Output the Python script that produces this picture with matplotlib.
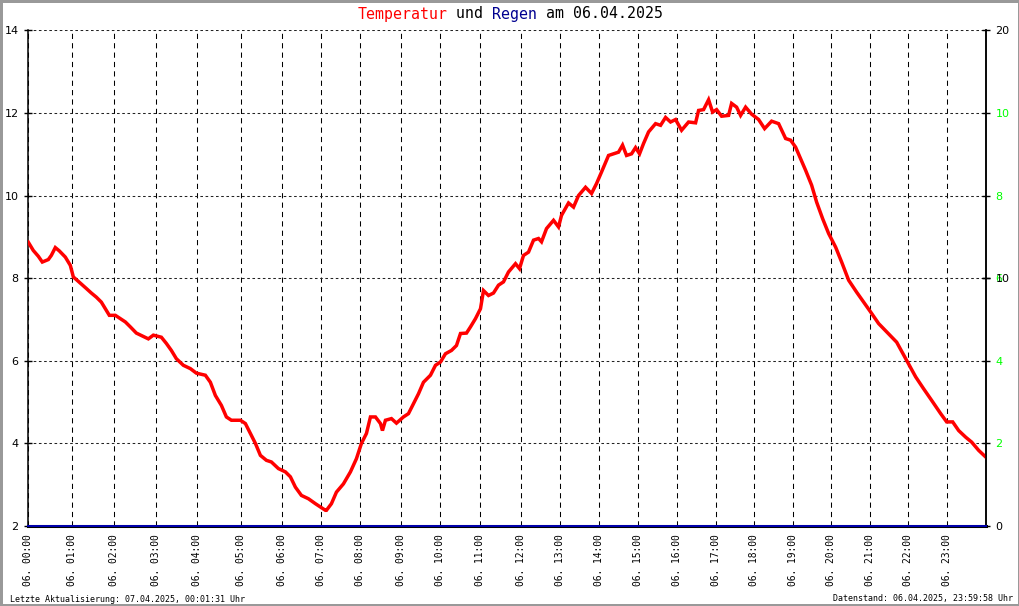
import numpy as np, matplotlib
matplotlib.use("Agg"); import matplotlib.pyplot as plt

plt.rcParams.update({"font.family": "DejaVu Sans", "axes.linewidth": 1.1})

# sample index of the temperature log (irregular sampling), one tick per hour
hour_idx = [0, 44, 86, 128, 169, 213, 254, 293, 332, 373, 412, 452, 492, 531, 570, 609,
            648, 687, 725, 764, 802, 841, 879, 918]
hour_lab = ["06. %02d:00" % h for h in range(24)]
n_samples = 957

# temperature (°C)
t_idx = [0, 5, 10, 14, 20, 23, 27, 31, 37, 42, 45, 52, 58, 63, 68, 73, 81, 87, 92, 97, 102, 108,
         115, 120, 125, 133, 138, 143, 148, 155, 162, 168, 177, 182, 187, 193, 198, 203, 212, 217,
         222, 227, 232, 238, 243, 250, 257, 262, 267, 273, 280, 287, 292, 297, 298, 303, 308, 315,
         322, 328, 333, 338, 342, 347, 352, 354, 357, 363, 368, 375, 380, 385, 390, 395, 402, 407,
         412, 417, 423, 428, 432, 438, 442, 447, 452, 455, 460, 465, 470, 475, 480, 487, 491, 495,
         500, 505, 510, 513, 518, 525, 530, 533, 540, 545, 550, 557, 563, 568, 573, 580, 585, 590,
         594, 598, 603, 607, 611, 615, 620, 627, 632, 637, 642, 647, 653, 660, 667, 670, 675, 680,
         684, 688, 693, 700, 703, 708, 712, 717, 723, 730, 736, 743, 750, 757, 762, 767, 772, 777,
         783, 788, 794, 800, 807, 813, 820, 828, 835, 842, 850, 858, 868, 878, 887, 895, 903, 912,
         918, 924, 930, 937, 943, 950, 957]
temp = [8.87, 8.67, 8.53, 8.39, 8.45, 8.55, 8.74, 8.66, 8.51, 8.31, 8.03, 7.88, 7.75, 7.64, 7.54,
        7.42, 7.10, 7.10, 7.02, 6.94, 6.82, 6.67, 6.59, 6.53, 6.62, 6.57, 6.42, 6.25, 6.05, 5.89,
        5.81, 5.70, 5.65, 5.48, 5.16, 4.92, 4.64, 4.56, 4.56, 4.48, 4.24, 4.00, 3.71, 3.59, 3.55,
        3.39, 3.31, 3.19, 2.94, 2.74, 2.66, 2.54, 2.46, 2.38, 2.38, 2.54, 2.82, 3.02, 3.31, 3.63,
        4.00, 4.24, 4.64, 4.64, 4.48, 4.31, 4.56, 4.60, 4.49, 4.64, 4.72, 4.96, 5.20, 5.48, 5.65,
        5.89, 5.97, 6.17, 6.25, 6.37, 6.66, 6.67, 6.82, 7.02, 7.26, 7.70, 7.58, 7.64, 7.83, 7.91,
        8.15, 8.35, 8.23, 8.55, 8.63, 8.92, 8.96, 8.88, 9.20, 9.40, 9.24, 9.52, 9.82, 9.72, 10.00,
        10.20, 10.05, 10.29, 10.57, 10.97, 11.01, 11.05, 11.22, 10.97, 11.01, 11.16, 11.01, 11.26,
        11.54, 11.74, 11.70, 11.89, 11.78, 11.84, 11.58, 11.78, 11.76, 12.06, 12.08, 12.32, 12.02,
        12.08, 11.92, 11.94, 12.23, 12.14, 11.94, 12.14, 11.97, 11.84, 11.62, 11.80, 11.74, 11.38,
        11.34, 11.17, 10.89, 10.61, 10.25, 9.84, 9.44, 9.08, 8.75, 8.39, 7.95, 7.66, 7.42, 7.18,
        6.90, 6.70, 6.45, 6.01, 5.61, 5.32, 5.04, 4.72, 4.52, 4.52, 4.31, 4.15, 4.03, 3.83, 3.67]

# rain (mm) - none fell
rain_idx = hour_idx + [n_samples]
rain = [0.0] * len(rain_idx)

t_ticks = [2, 4, 6, 8, 10, 12, 14]
green_ticks = [4, 6, 8, 10, 12]
green_lab = ["2", "4", "6", "8", "10"]
rain_ticks = [0, 10, 20]

fig = plt.figure(figsize=(10.2, 6.06), dpi=100)
fig.patch.set_edgecolor("#999999"); fig.patch.set_linewidth(2.5)
ax = fig.add_axes([28.3/1020, 1-526/606, (985.7-28.3)/1020, (526-30.3)/606])

ax.plot(t_idx, temp, color="#ff0000", lw=2.5, solid_joinstyle="miter", zorder=3)
ax.set_xlim(0, n_samples); ax.set_ylim(2, 14)
ax.set_yticks(t_ticks)
ax.tick_params(axis="y", direction="inout", length=6, width=1, labelsize=8, pad=4)
ax.set_xticks(hour_idx)
ax.set_xticklabels(hour_lab, rotation=90, fontsize=6.9, family="DejaVu Sans Mono")
ax.tick_params(axis="x", length=0, pad=6)
ax.grid(True, axis="x", color="k", lw=0.75, linestyle=(0, (5, 4)))
ax.grid(True, axis="y", color="#222222", lw=0.75, linestyle=(0, (2.5, 2.5)))
ax.spines["top"].set_visible(False)
ax.spines["bottom"].set_linewidth(2.2)

# right axis: green scale on temperature grid
axg = ax.twinx()
axg.set_ylim(2, 14)
axg.set_yticks(green_ticks); axg.set_yticklabels(green_lab)
axg.tick_params(axis="y", direction="inout", length=6, width=1, labelsize=8, pad=4, labelcolor="#00ff00")
for s in axg.spines.values(): s.set_visible(False)

# right axis: rain scale
axr = ax.twinx()
axr.set_ylim(0, 20)
axr.plot(rain_idx, rain, color="#0000b0", lw=1.4, clip_on=False, zorder=4)
axr.set_yticks(rain_ticks)
axr.tick_params(axis="y", direction="inout", length=6, width=1, labelsize=8, pad=4)
axr.spines["top"].set_visible(False); axr.spines["bottom"].set_visible(False)
axr.spines["left"].set_visible(False)

# multicoloured monospace title
fs = 10.7
cw = fs * 0.602 * 100 / 72 / 1020
parts = [("Temperatur", "#ff0000"), (" und ", "black"), ("Regen", "#000090"), (" am 06.04.2025", "black")]
total = sum(len(p) for p, _ in parts)
x0 = 0.5 - total * cw / 2
for txt, c in parts:
    fig.text(x0, 1-14/606, txt, color=c, fontsize=fs, family="DejaVu Sans Mono", va="center", ha="left")
    x0 += len(txt) * cw

fig.text(10/1020, 1-599/606, "Letzte Aktualisierung: 07.04.2025, 00:01:31 Uhr", fontsize=6,
         family="DejaVu Sans Mono", va="center", ha="left")
fig.text(1013/1020, 1-599/606, "Datenstand: 06.04.2025, 23:59:58 Uhr", fontsize=6,
         family="DejaVu Sans Mono", va="center", ha="right")

fig.savefig("out.png", dpi=100)
